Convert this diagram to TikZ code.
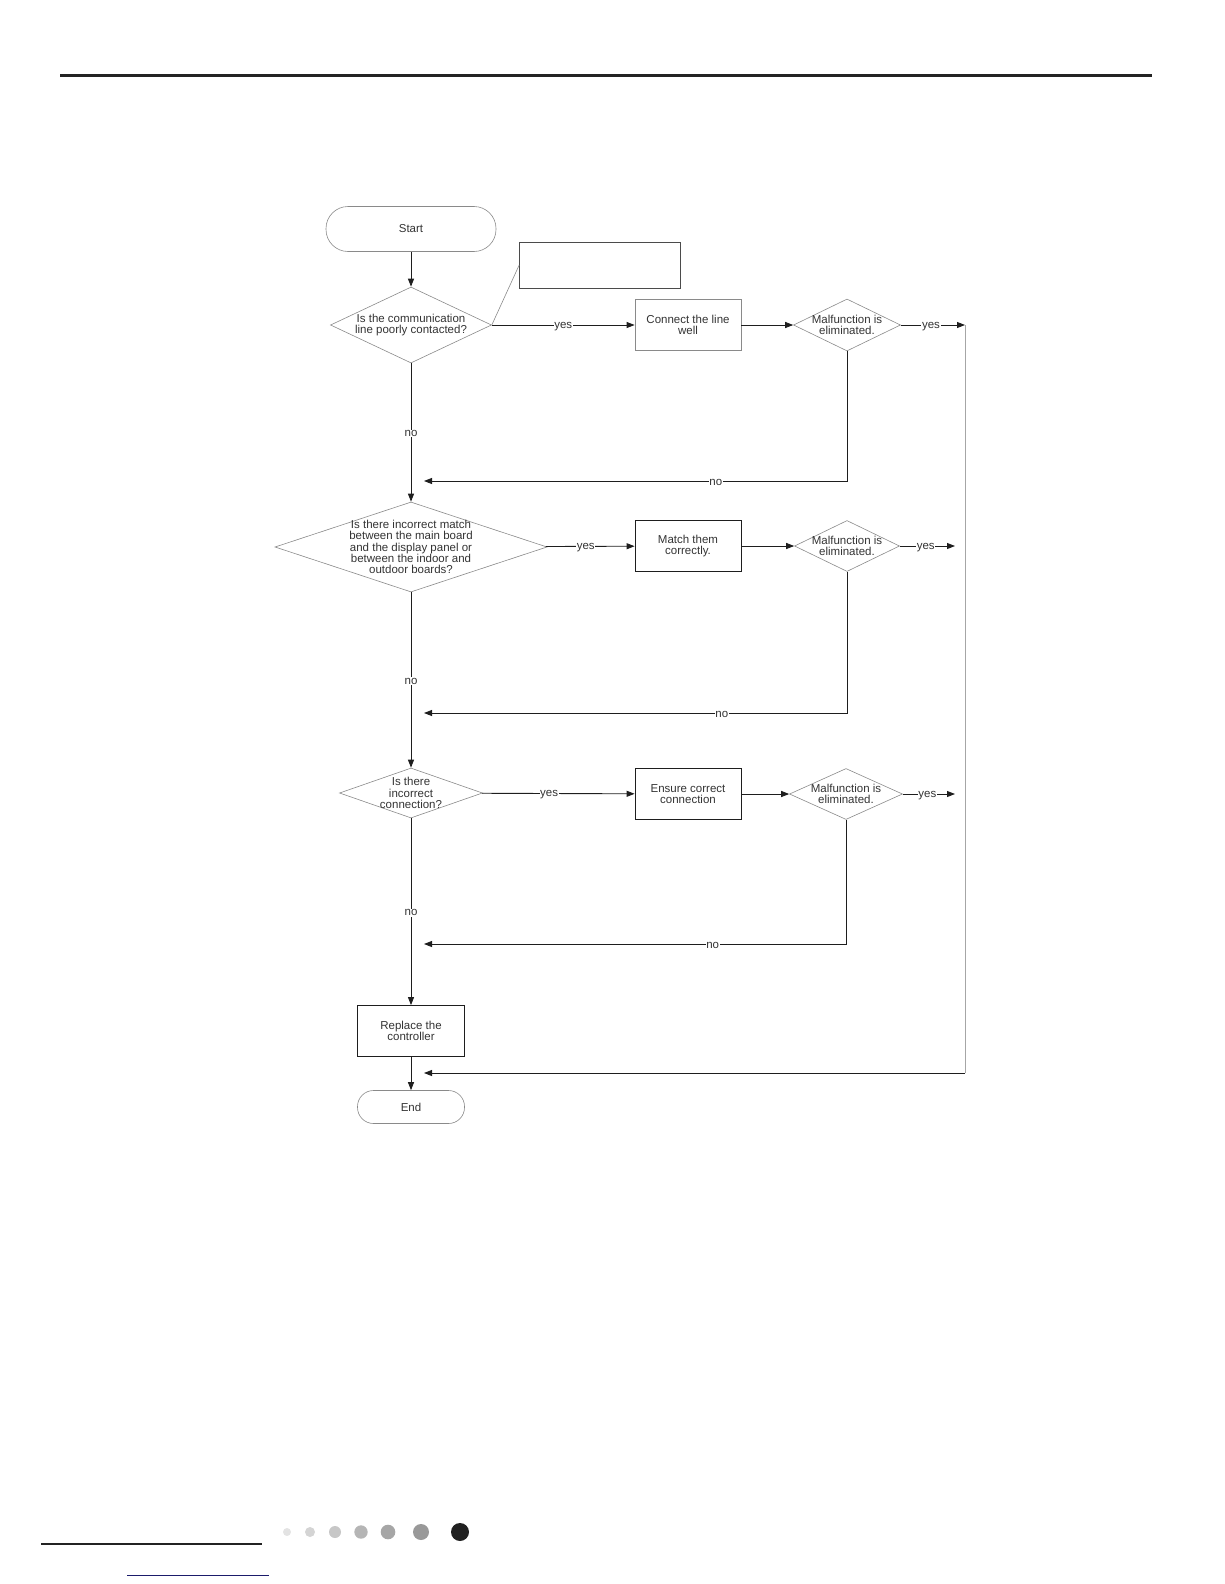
\documentclass[tikz,border=0pt]{standalone}
\usepackage{fontspec}
\setmainfont{Liberation Sans}
\usepackage{xcolor}
\usepackage{tikz}
\usetikzlibrary{arrows.meta,positioning,shapes.geometric,calc}
\definecolor{flowEdge}{HTML}{8A8A8A}
\definecolor{flowText}{HTML}{333333}
\definecolor{flowRail}{HTML}{A6A6A6}
\definecolor{flowInk}{HTML}{1E1E1E}
\definecolor{pageRule}{HTML}{232323}
\definecolor{pageNavy}{HTML}{1B1B6B}
\tikzset{
  flowFont/.style={
    font=\fontsize{11.5}{11.2}\selectfont,
    text=flowText,
    align=center
  },
  flowTerm/.style={
    flowFont,
    rectangle,
    draw=flowEdge,
    line width=0.6pt,
    inner sep=0pt
  },
  flowBox/.style={
    flowFont,
    rectangle,
    draw=flowInk,
    line width=0.8pt,
    minimum width=106pt,
    minimum height=51pt,
    inner sep=0pt
  },
  flowBoxGray/.style={
    flowBox,
    draw=flowEdge
  },
  flowDec/.style={
    flowFont,
    diamond,
    draw=flowEdge,
    line width=0.6pt,
    inner xsep=0pt,
    inner ysep=-6pt
  },
  flowArrow/.style={
    -{Triangle[length=8pt,width=6pt]},
    line width=0.9pt,
    draw=flowInk
  },
  flowLabel/.style={
    flowFont,
    fill=white,
    inner sep=0.6pt,
    yshift=-1.2pt
  }
}
\begin{document}
\begin{tikzpicture}[x=1pt,y=-1pt]
  \useasboundingbox (0,0) rectangle (1224,1584);

  % page rules
  \draw[pageRule, line width=3pt] (60,76) -- (1152,76);
  \draw[pageRule, line width=2.2pt] (41,1544) -- (262,1544);
  \draw[pageNavy, line width=1pt] (127,1575) -- (269,1575);
  \foreach \dx/\dr/\dc in {287/4/11, 310/5/17, 335/6/22, 361/6.7/29, 388/7.3/35, 421/8/40, 460/9/87}
    \fill[black!\dc] (\dx,1532) circle (\dr pt);

  % main column
  \node[flowTerm, minimum width=170pt, minimum height=45pt, rounded corners=22pt] (start) at (411,229) {Start};
  \node[flowDec, minimum width=161pt, minimum height=76pt, aspect=2.1] (q1) at (411,325) {Is the communication\\line poorly contacted?};
  \node[flowDec, minimum width=272pt, minimum height=90pt, aspect=3, inner ysep=-10pt] (q2) at (411,547) {Is there incorrect match\\between the main board\\and the display panel or\\between the indoor and\\outdoor boards?};
  \node[flowDec, minimum width=143pt, minimum height=50pt, aspect=2.86] (q3) at (411,793) {Is there\\incorrect\\connection?};
  \node[flowBox, minimum width=107pt] (repl) at (411,1031) {Replace the\\controller};
  \node[flowTerm, minimum width=107pt, minimum height=33pt, rounded corners=16pt] (finish) at (411,1107) {End};

  % note box
  \node[flowTerm, draw=flowInk!80, minimum width=161pt, minimum height=46pt] (note) at (600,265) {};

  % right column
  \node[flowBoxGray] (fix1) at (688,325) {Connect the line\\well};
  \node[flowDec, minimum width=107pt, minimum height=52pt, aspect=2.06] (ok1) at (847,325) {Malfunction is\\eliminated.};
  \node[flowBox] (fix2) at (688,546) {Match them\\correctly.};
  \node[flowDec, minimum width=105pt, minimum height=51pt, aspect=2.06] (ok2) at (847,546) {Malfunction is\\eliminated.};
  \node[flowBox] (fix3) at (688,794) {Ensure correct\\connection};
  \node[flowDec, minimum width=113pt, minimum height=51pt, aspect=2.2] (ok3) at (846,794) {Malfunction is\\eliminated.};

  \coordinate (back1) at (424,481);
  \coordinate (back2) at (424,713);
  \coordinate (back3) at (424,944);
  \coordinate (done2) at (955,546);
  \coordinate (done3) at (955,794);
  \coordinate (railTop) at (965,325);
  \coordinate (railBot) at (965,1073);
  \coordinate (backEnd) at (424,1073);

  \draw[flowEdge, line width=0.6pt] (note.west) -- (q1.east);

  \draw[flowArrow] (start) -- (q1);
  \draw[flowArrow] (q1) -- node[flowLabel] {no} (q2);
  \draw[flowArrow] (q2) -- node[flowLabel] {no} (q3);
  \draw[flowArrow] (q3) -- node[flowLabel] {no} (repl);
  \draw[flowArrow] (repl) -- (finish);

  \draw[flowArrow] (q1) -- node[flowLabel] {yes} (fix1);
  \draw[flowArrow] (q2) -- node[flowLabel, pos=0.45] {yes} (fix2);
  \draw[flowArrow] (q3) -- node[flowLabel, pos=0.44] {yes} (fix3);
  \draw[flowArrow] (fix1) -- (ok1);
  \draw[flowArrow] (fix2) -- (ok2);
  \draw[flowArrow] (fix3) -- (ok3);

  \draw[flowArrow] (ok1) -- node[flowLabel, pos=0.47] {yes} (railTop);
  \draw[flowArrow] (ok2) -- node[flowLabel, pos=0.47] {yes} (done2);
  \draw[flowArrow] (ok3) -- node[flowLabel, pos=0.47] {yes} (done3);

  \draw[flowArrow] (ok1.south) |- node[flowLabel, pos=0.655] {no} (back1);
  \draw[flowArrow] (ok2.south) |- node[flowLabel, pos=0.648] {no} (back2);
  \draw[flowArrow] (ok3.south) |- node[flowLabel, pos=0.658] {no} (back3);

  \draw[flowRail, line width=0.9pt] (railTop) -- (railBot);
  \draw[flowArrow] (railBot) -- (backEnd);
\end{tikzpicture}
\end{document}
